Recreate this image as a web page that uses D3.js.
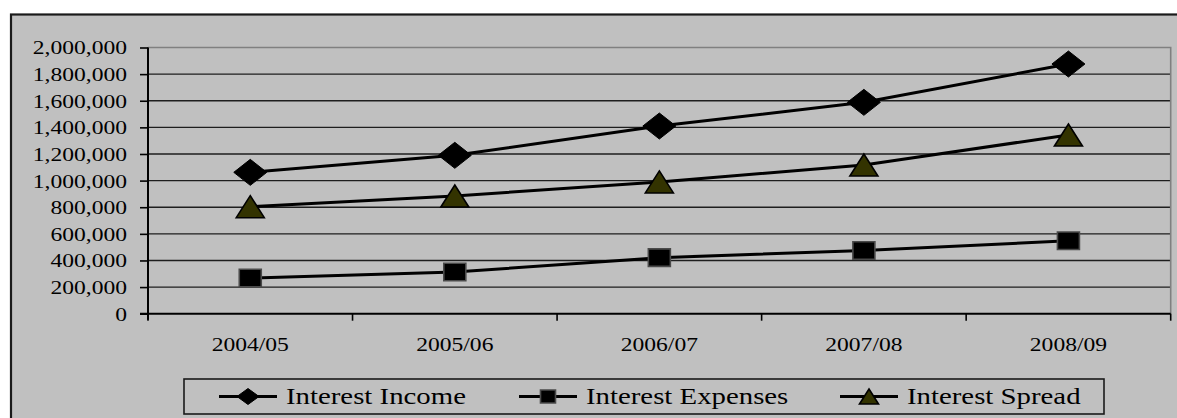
<!DOCTYPE html>
<html>
<head>
<meta charset="utf-8">
<script src="https://cdn.jsdelivr.net/npm/d3@7/dist/d3.min.js"></script>
<style>
  html, body { margin: 0; padding: 0; background: #ffffff; }
  svg { display: block; }
  text { font-family: "Liberation Serif", "Times New Roman", serif; fill: #000; }
</style>
</head>
<body>
<svg id="chart" width="1177" height="418"></svg>
<script>
// Fiscal years on the category axis
const years = ["2004/05", "2005/06", "2006/07", "2007/08", "2008/09"];

// Series values
const interestIncome   = [1062000, 1190000, 1410000, 1588000, 1876000];
const interestExpenses = [268000, 313000, 421000, 475000, 548000];
const interestSpread   = [804000, 884000, 990000, 1117000, 1343000];

// Value axis ticks
const yTicks = [0, 200000, 400000, 600000, 800000, 1000000, 1200000, 1400000, 1600000, 1800000, 2000000];

const seriesNames = ["Interest Income", "Interest Expenses", "Interest Spread"];

const W = 1177, H = 418;
const SX = 1.24;        // horizontal widening of axis glyphs
const SX_LEGEND = 1.28; // horizontal widening of legend glyphs
const plot = { left: 148, right: 1170.7, top: 47.5, bottom: 313.7 };

const svg = d3.select("#chart");

// Chart area: grey panel with dark frame (runs off the right and bottom edges)
svg.append("rect")
  .attr("x", 11).attr("y", 14.5)
  .attr("width", W + 20).attr("height", H + 20)
  .attr("fill", "#c0c0c0")
  .attr("stroke", "#1a1a1a").attr("stroke-width", 2.2);

const x = d3.scaleBand().domain(years).range([plot.left, plot.right]).paddingInner(0).paddingOuter(0);
const y = d3.scaleLinear().domain([0, 2000000]).range([plot.bottom, plot.top]);
const cx = d => x(d) + x.bandwidth() / 2;

// Stretch a text element horizontally by factor k
function widen(sel, k) {
  const f = k || SX;
  sel.each(function () {
    const w = this.getComputedTextLength();
    d3.select(this).attr("textLength", w * f).attr("lengthAdjust", "spacingAndGlyphs");
  });
}

// Horizontal gridlines
svg.append("g").selectAll("line")
  .data(yTicks.filter(t => t > 0 && t < 2000000))
  .join("line")
  .attr("x1", plot.left).attr("x2", plot.right)
  .attr("y1", d => y(d)).attr("y2", d => y(d))
  .attr("stroke", "#1e1e1e").attr("stroke-width", 1.4);

// Plot-area border (top and right)
svg.append("path")
  .attr("d", `M${plot.left},${plot.top}H${plot.right}V${plot.bottom}`)
  .attr("fill", "none").attr("stroke", "#808080").attr("stroke-width", 1.6);

// Value axis
const yAxis = svg.append("g")
  .attr("transform", `translate(${plot.left},0)`)
  .call(d3.axisLeft(y).tickValues(yTicks).tickFormat(d3.format(",")).tickSize(8).tickPadding(13));
yAxis.select(".domain").attr("stroke", "#000").attr("stroke-width", 2).attr("d", `M0,${plot.top}V${plot.bottom + 6}`);
yAxis.selectAll(".tick line").attr("stroke", "#000").attr("stroke-width", 1.6);
yAxis.selectAll(".tick text")
  .attr("font-family", "Liberation Serif, Times New Roman, serif")
  .attr("font-size", 19).attr("fill", "#000").attr("dy", "0.34em")
  .call(widen);

// Category axis: labels at band centres, tick marks on band edges
const xAxis = svg.append("g")
  .attr("transform", `translate(0,${plot.bottom})`)
  .call(d3.axisBottom(x).tickSize(0).tickPadding(24));
xAxis.select(".domain").attr("stroke", "#000").attr("stroke-width", 2).attr("d", `M${plot.left - 8},0H${plot.right}`);
xAxis.selectAll(".tick text")
  .attr("font-family", "Liberation Serif, Times New Roman, serif")
  .attr("font-size", 19).attr("fill", "#000").attr("dy", "0.71em")
  .call(widen);
const edges = years.map(d => x(d)).concat([plot.right]);
xAxis.append("g").selectAll("line").data(edges).join("line")
  .attr("x1", d => d).attr("x2", d => d)
  .attr("y1", 0).attr("y2", 7)
  .attr("stroke", "#000").attr("stroke-width", 1.6);

// Marker shapes (width/height in px)
function diamond(w, h) { return `M0,${-h/2}L${w/2},0L0,${h/2}L${-w/2},0Z`; }
function square(w, h) { return `M${-w/2},${-h/2}H${w/2}V${h/2}H${-w/2}Z`; }
function triangle(w, h) { return `M0,${-h/2}L${w/2},${h/2}H${-w/2}Z`; }

const series = [
  { name: seriesNames[0], values: interestIncome,   shape: diamond,  w: 33, h: 26, fill: "#000", stroke: "#000", sw: 1 },
  { name: seriesNames[1], values: interestExpenses, shape: square,   w: 22, h: 17.5, fill: "#000", stroke: "#4a4a4a", sw: 1.6 },
  { name: seriesNames[2], values: interestSpread,   shape: triangle, w: 28, h: 22, fill: "#333300", stroke: "#000", sw: 1.6 }
];

const line = d3.line().x(d => cx(d.year)).y(d => y(d.value));

series.forEach(s => {
  const pts = years.map((yr, i) => ({ year: yr, value: s.values[i] }));
  svg.append("path")
    .datum(pts)
    .attr("d", line)
    .attr("fill", "none").attr("stroke", "#000").attr("stroke-width", 3);
});

series.forEach(s => {
  const pts = years.map((yr, i) => ({ year: yr, value: s.values[i] }));
  svg.append("g").selectAll("path").data(pts).join("path")
    .attr("transform", d => `translate(${cx(d.year)},${y(d.value)})`)
    .attr("d", s.shape(s.w, s.h))
    .attr("fill", s.fill).attr("stroke", s.stroke).attr("stroke-width", s.sw);
});

// Legend
const legend = { x: 184, y: 379, w: 920, h: 35 };
svg.append("rect")
  .attr("x", legend.x).attr("y", legend.y)
  .attr("width", legend.w).attr("height", legend.h)
  .attr("fill", "none").attr("stroke", "#1a1a1a").attr("stroke-width", 1.6);

const legendStarts = [219, 519, 840];
const legendMarks = [
  { w: 22, h: 16 }, { w: 15, h: 13 }, { w: 19, h: 15 }
];
const ly = legend.y + legend.h / 2;
series.forEach((s, i) => {
  const g = svg.append("g");
  const x0 = legendStarts[i];
  g.append("line")
    .attr("x1", x0).attr("x2", x0 + 58)
    .attr("y1", ly).attr("y2", ly)
    .attr("stroke", "#000").attr("stroke-width", 3);
  g.append("path")
    .attr("transform", `translate(${x0 + 29},${ly})`)
    .attr("d", s.shape(legendMarks[i].w, legendMarks[i].h))
    .attr("fill", s.fill).attr("stroke", s.stroke).attr("stroke-width", s.sw);
  g.append("text")
    .attr("x", x0 + 67).attr("y", ly)
    .attr("dy", "0.35em")
    .attr("font-size", 22.5)
    .text(s.name)
    .call(widen, SX_LEGEND);
});
</script>
</body>
</html>
